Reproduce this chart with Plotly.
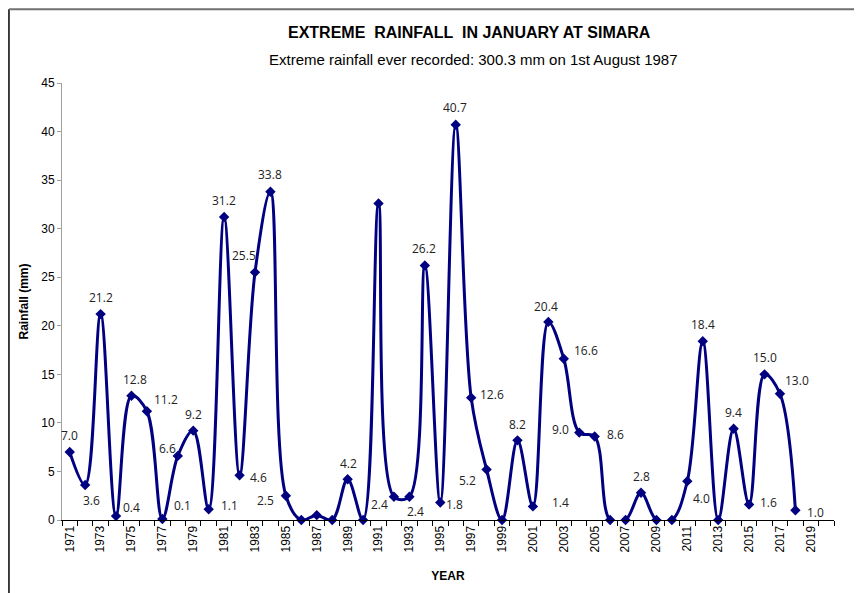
import plotly.graph_objects as go

years = list(range(1971, 2019))
rainfall = [7.0, 3.6, 21.2, 0.4, 12.8, 11.2, 0.1, 6.6, 9.2, 1.1,
            31.2, 4.6, 25.5, 33.8, 2.5, 0.0, 0.5, 0.0, 4.2, 0.0,
            32.6, 2.4, 2.4, 26.2, 1.8, 40.7, 12.6, 5.2, 0.0, 8.2,
            1.4, 20.4, 16.6, 9.0, 8.6, 0.0, 0.0, 2.8, 0.0, 0.0,
            4.0, 18.4, 0.0, 9.4, 1.6, 15.0, 13.0, 1.0]
# labels shown in the original (blank = no label)
labels = ["7.0", "3.6", "21.2", "0.4", "12.8", "11.2", "0.1", "6.6", "9.2", "1.1",
          "31.2", "4.6", "25.5", "33.8", "2.5", "", "", "", "4.2", "",
          "", "2.4", "2.4", "26.2", "1.8", "40.7", "12.6", "5.2", "", "8.2",
          "1.4", "20.4", "16.6", "9.0", "8.6", "", "", "2.8", "", "",
          "4.0", "18.4", "", "9.4", "1.6", "15.0", "13.0", "1.0"]
# label offsets from the marker, in pixels (dx right, dy down)
label_dx = [0, 6, 0, 15, 4, 19, 20, -10, 0, 21,
            0, 19, -11, 0, -20, 0, 0, 0, 1, 0,
            0, -14, 6, -1, 14, -1, 21, -19, 0, 0,
            28, -2, 22, -19, 21, 0, 0, 0, 0, 0,
            14, 0, 0, 0, 19, 0, 17, 20]
label_dy = [-17, 15, -17, -9, -16, -12, -14, -7, -16, -4,
            -17, 2, -17, -17, 5, 0, 0, 0, -16, 0,
            0, 8, 15, -17, 2, -17, -3, 11, 0, -16,
            -4, -15, -8, -3, -2, 0, 0, -16, 0, 0,
            17, -17, 0, -16, -2, -17, -13, 2]
tick_years = list(range(1971, 2020, 2))

fig = go.Figure()
fig.add_trace(go.Scatter(
    x=years, y=rainfall, mode="lines+markers",
    line=dict(color="#000080", width=3, shape="spline", smoothing=1.0),
    marker=dict(symbol="diamond", size=8, color="#000080"),
    cliponaxis=False, showlegend=False))

for yr, val, lab, dx, dy in zip(years, rainfall, labels, label_dx, label_dy):
    if lab:
        fig.add_annotation(x=yr, y=val, text=lab, showarrow=False,
                           xshift=dx, yshift=-dy, xanchor="center", yanchor="middle",
                           font=dict(family="Open Sans, Arial", size=12, color="#222222"))

# page body adds ~8px offset, so size and margins are compensated
fig.update_layout(
    width=854, height=585,
    margin=dict(l=54, r=28, t=75, b=73),
    paper_bgcolor="white", plot_bgcolor="white",
    font=dict(family="Liberation Sans, Arial", size=12, color="black"),
    xaxis=dict(range=[1970.5, 2020.5], tickvals=tick_years, ticktext=[str(y) for y in tick_years],
               tickangle=-90, ticks="", showgrid=False, zeroline=False,
               showline=True, linecolor="black", linewidth=1,
               minor=dict(ticks="outside", tick0=1970.5, dtick=1, ticklen=5, tickcolor="black"),
               title=dict(text="<b>YEAR</b>", font=dict(size=12), standoff=20)),
    yaxis=dict(range=[0, 45], dtick=5, showgrid=False, zeroline=False,
               showline=True, linecolor="#A0A0A0", linewidth=1,
               ticks="outside", ticklen=4, tickcolor="#A0A0A0",
               title=dict(text="<b>Rainfall (mm)</b>", font=dict(size=12), standoff=10)),
)

fig.add_annotation(text="<b>EXTREME  RAINFALL  IN JANUARY AT SIMARA</b>",
                   xref="paper", yref="paper", x=0.528, y=1.116, xanchor="center", yanchor="middle",
                   showarrow=False, font=dict(size=16))
fig.add_annotation(text="Extreme rainfall ever recorded: 300.3 mm on 1st August 1987",
                   xref="paper", yref="paper", x=0.533, y=1.054, xanchor="center", yanchor="middle",
                   showarrow=False, font=dict(size=15))

# chart border (left and top edges)
fig.add_shape(type="line", xref="paper", yref="paper", x0=-0.0687, x1=-0.0687, y0=-0.167, y1=1.169,
              line=dict(color="black", width=1.5))
fig.add_shape(type="line", xref="paper", yref="paper", x0=-0.0687, x1=1.04, y0=1.169, y1=1.169,
              line=dict(color="#707070", width=2))

fig.write_html("out.html")
